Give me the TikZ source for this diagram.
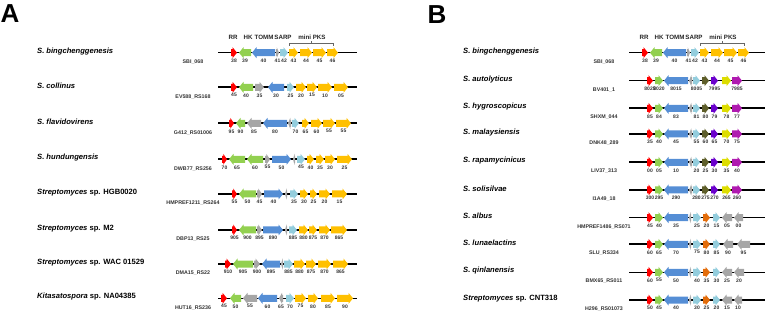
\documentclass[tikz,border=0pt]{standalone}
\usepackage{fontspec}
\setmainfont{Liberation Sans}
\usetikzlibrary{positioning}
\definecolor{gred}{HTML}{FF0000}
\definecolor{ggreen}{HTML}{92D050}
\definecolor{gblue}{HTML}{558ED5}
\definecolor{ggray}{HTML}{A6A6A6}
\definecolor{gsky}{HTML}{93CDDD}
\definecolor{gyellow}{HTML}{FFC000}
\definecolor{golive}{HTML}{5E5E2A}
\definecolor{gviolet}{HTML}{6A00CC}
\definecolor{glime}{HTML}{DDDD00}
\definecolor{gmagenta}{HTML}{B01AB0}
\definecolor{gorange}{HTML}{E36C0A}
\tikzset{
  panel/.style={font=\fontsize{26}{28}\selectfont\bfseries, inner sep=0pt},
  sp/.style={anchor=west, inner sep=0pt, font=\fontsize{7.6}{8}\selectfont\bfseries},
  tag/.style={inner sep=0pt, text=black!80, font=\fontsize{5.3}{6}\selectfont\bfseries},
  gnum/.style={inner sep=0pt, text=black!80, font=\fontsize{5}{6}\selectfont\bfseries},
  head/.style={inner sep=0pt, text=black!85, font=\fontsize{6.2}{7}\selectfont\bfseries},
  locus/.style={line width=1.6pt, black},
  brk/.style={draw=black!60, line width=0.5pt},
}
\newcounter{gn}
% gene pointing right: x1, x2, y, colour, number
\newcommand{\gR}[5]{%
  \pgfmathsetmacro{\hl}{min(4.5,0.75*(#2-#1))}
  \fill[#4] (#1,#3-3.5) -- (#2-\hl,#3-3.5) -- (#2-\hl,#3-5.5) -- (#2,#3)
    -- (#2-\hl,#3+5.5) -- (#2-\hl,#3+3.5) -- (#1,#3+3.5) -- cycle;
  \ifx\relax#5\relax\else
    \stepcounter{gn}\node[gnum] (n\arabic{gn}) at ({(#1+#2)/2},#3+8) {#5};
  \fi}
% gene pointing left: x1, x2, y, colour, number
\newcommand{\gL}[5]{%
  \pgfmathsetmacro{\hl}{min(4.5,0.75*(#2-#1))}
  \fill[#4] (#2,#3-3.5) -- (#1+\hl,#3-3.5) -- (#1+\hl,#3-5.5) -- (#1,#3)
    -- (#1+\hl,#3+5.5) -- (#1+\hl,#3+3.5) -- (#2,#3+3.5) -- cycle;
  \ifx\relax#5\relax\else
    \stepcounter{gn}\node[gnum] (n\arabic{gn}) at ({(#1+#2)/2},#3+8) {#5};
  \fi}

\begin{document}
\begin{tikzpicture}[x=1pt, y=-1pt]
  \useasboundingbox (0,0) rectangle (765,312);
  \node[panel] (pA) at (10,14) {A};
  \node[panel] (pB) at (437,15) {B};

  % panel A, headers
  \node[head] (rrA) at (233,37.3) {RR};
  \node[head] (hkA) at (248,37.3) {HK};
  \node[head] (tommA) at (264,37.3) {TOMM};
  \node[head] (sarpA) at (283,37.3) {SARP};
  \node[head] (pksA) at (312,37.3) {mini PKS};
  \draw[brk] (289,46) -- (289,43.5) -- (333,43.5) -- (333,46) (311,43.5) -- (311,41.5);

  % panel A, row 1
  \node[sp] (sA1) at (37,51.2) {\textit{S. bingchenggenesis}};
  \node[tag] (tA1) at (193,62) {SBI\_068};
  \draw[locus] (218,52.7) -- (357,52.7);
  \gR{231}{237}{52.7}{gred}{38}
  \gL{239}{251}{52.7}{ggreen}{39}
  \gL{252}{275}{52.7}{gblue}{40}
  \gR{276}{279}{52.7}{ggray}{41}
  \gR{280}{288}{52.7}{gsky}{42}
  \gR{289}{298}{52.7}{gyellow}{43}
  \gR{300}{312}{52.7}{gyellow}{44}
  \gR{313}{326}{52.7}{gyellow}{45}
  \gR{327}{338}{52.7}{gyellow}{46}

  % panel A, row 2
  \node[sp] (sA2) at (37,85.8) {\textit{S. collinus}};
  \node[tag] (tA2) at (193,96.6) {EV588\_RS168};
  \draw[locus] (218,87.3) -- (357,87.3);
  \gR{231}{237}{87.3}{gred}{45}
  \gL{239}{253}{87.3}{ggreen}{40}
  \gR{255}{264}{87.3}{ggray}{35}
  \gL{268}{284}{87.3}{gblue}{30}
  \gR{287}{294}{87.3}{gsky}{25}
  \gR{296}{306}{87.3}{gyellow}{20}
  \gR{307}{317}{87.3}{gyellow}{15}
  \gR{318}{332}{87.3}{gyellow}{10}
  \gR{334}{348}{87.3}{gyellow}{05}

  % panel A, row 3
  \node[sp] (sA3) at (37,121.8) {\textit{S. flavidovirens}};
  \node[tag] (tA3) at (193,132.6) {G412\_RS01006};
  \draw[locus] (218,123.3) -- (357,123.3);
  \gR{229}{234}{123.3}{gred}{95}
  \gL{236}{245}{123.3}{ggreen}{90}
  \gL{247}{261}{123.3}{ggray}{85}
  \gL{263}{287}{123.3}{gblue}{80}
  \gL{288}{291}{123.3}{ggray}{}
  \gR{292}{299}{123.3}{gsky}{70}
  \gR{302}{309}{123.3}{gyellow}{65}
  \gR{311}{322}{123.3}{gyellow}{60}
  \gR{323}{335}{123.3}{gyellow}{55}
  \gR{336}{351}{123.3}{gyellow}{55}

  % panel A, row 4
  \node[sp] (sA4) at (37,157.8) {\textit{S. hundungensis}};
  \node[tag] (tA4) at (193,168.6) {DWB77\_RS256};
  \draw[locus] (218,159.3) -- (357,159.3);
  \gR{222}{227}{159.3}{gred}{70}
  \gL{229}{245}{159.3}{ggreen}{65}
  \gL{247}{263}{159.3}{ggreen}{60}
  \gR{265}{270}{159.3}{ggray}{55}
  \gR{272}{291}{159.3}{gblue}{50}
  \gL{293}{295}{159.3}{ggray}{}
  \gR{297}{305}{159.3}{gsky}{45}
  \gR{307}{314}{159.3}{gyellow}{40}
  \gR{316}{324}{159.3}{gyellow}{35}
  \gR{325}{335}{159.3}{gyellow}{30}
  \gR{337}{352}{159.3}{gyellow}{25}

  % panel A, row 5
  \node[sp] (sA5) at (37,192.5) {\textit{Streptomyces} sp. HGB0020};
  \node[tag] (tA5) at (193,203.3) {HMPREF1211\_RS264};
  \draw[locus] (218,194) -- (357,194);
  \gR{232}{237}{194}{gred}{55}
  \gL{239}{256}{194}{ggreen}{50}
  \gR{257}{262}{194}{ggray}{45}
  \gR{264}{283}{194}{gblue}{40}
  \gL{285}{287}{194}{ggray}{}
  \gR{290}{298}{194}{gsky}{35}
  \gR{300}{308}{194}{gyellow}{30}
  \gR{310}{317}{194}{gyellow}{25}
  \gR{319}{330}{194}{gyellow}{20}
  \gR{332}{347}{194}{gyellow}{15}

  % panel A, row 6
  \node[sp] (sA6) at (37,228.5) {\textit{Streptomyces} sp. M2};
  \node[tag] (tA6) at (193,239.3) {DBP13\_RS25};
  \draw[locus] (218,230) -- (357,230);
  \gR{232}{237}{230}{gred}{905}
  \gL{239}{256}{230}{ggreen}{900}
  \gR{257}{262}{230}{ggray}{895}
  \gR{263}{283}{230}{gblue}{890}
  \gL{285}{287}{230}{ggray}{}
  \gR{289}{297}{230}{gsky}{885}
  \gR{299}{308}{230}{gyellow}{880}
  \gR{309}{317}{230}{gyellow}{875}
  \gR{319}{330}{230}{gyellow}{870}
  \gR{331}{347}{230}{gyellow}{865}

  % panel A, row 7
  \node[sp] (sA7) at (37,262.5) {\textit{Streptomyces} sp. WAC 01529};
  \node[tag] (tA7) at (193,273.3) {DMA15\_RS22};
  \draw[locus] (218,264) -- (357,264);
  \gR{225}{231}{264}{gred}{910}
  \gL{233}{253}{264}{ggreen}{905}
  \gR{254}{260}{264}{ggray}{900}
  \gL{262}{280}{264}{gblue}{895}
  \gL{281}{283}{264}{ggray}{}
  \gR{284}{293}{264}{gsky}{885}
  \gR{294}{305}{264}{gyellow}{880}
  \gR{306}{316}{264}{gyellow}{875}
  \gR{318}{331}{264}{gyellow}{870}
  \gR{333}{348}{264}{gyellow}{865}

  % panel A, row 8
  \node[sp] (sA8) at (37,296.8) {\textit{Kitasatospora} sp. NA04385};
  \node[tag] (tA8) at (193,307.6) {HUT16\_RS236};
  \draw[locus] (218,298.3) -- (357,298.3);
  \gR{221}{227}{298.3}{gred}{45}
  \gL{230}{241}{298.3}{ggreen}{50}
  \gL{243}{257}{298.3}{ggray}{55}
  \gL{258}{277}{298.3}{gblue}{60}
  \gL{279}{283}{298.3}{ggray}{65}
  \gR{286}{294}{298.3}{gsky}{70}
  \gR{295}{306}{298.3}{gyellow}{75}
  \gR{308}{318}{298.3}{gyellow}{80}
  \gR{321}{335}{298.3}{gyellow}{85}
  \gR{337}{353}{298.3}{gyellow}{90}

  % panel B, headers
  \node[head] (rrB) at (644,37.3) {RR};
  \node[head] (hkB) at (659,37.3) {HK};
  \node[head] (tommB) at (675,37.3) {TOMM};
  \node[head] (sarpB) at (694,37.3) {SARP};
  \node[head] (pksB) at (723,37.3) {mini PKS};
  \draw[brk] (700,46) -- (700,43.5) -- (744,43.5) -- (744,46) (722,43.5) -- (722,41.5);

  % panel B, row 1
  \node[sp] (sB1) at (463,51.2) {\textit{S. bingchenggenesis}};
  \node[tag] (tB1) at (604,61.5) {SBI\_068};
  \draw[locus] (629,52.7) -- (765,52.7);
  \gR{642}{648}{52.7}{gred}{38}
  \gL{650}{662}{52.7}{ggreen}{39}
  \gL{663}{686}{52.7}{gblue}{40}
  \gR{687}{690}{52.7}{ggray}{41}
  \gR{691}{699}{52.7}{gsky}{42}
  \gR{700}{709}{52.7}{gyellow}{43}
  \gR{711}{723}{52.7}{gyellow}{44}
  \gR{724}{737}{52.7}{gyellow}{45}
  \gR{738}{749}{52.7}{gyellow}{46}

  % panel B, row 2
  \node[sp] (sB2) at (463,79.2) {\textit{S. autolyticus}};
  \node[tag] (tB2) at (604,89.5) {BV401\_1};
  \draw[locus] (629,80.7) -- (765,80.7);
  \gR{647}{653}{80.7}{gred}{8025}
  \gR{655}{663}{80.7}{ggreen}{8020}
  \gL{664}{688}{80.7}{gblue}{8015}
  \gL{689}{692}{80.7}{ggray}{}
  \gR{693}{700}{80.7}{gsky}{8005}
  \gR{702}{709}{80.7}{golive}{}
  \gR{711}{718}{80.7}{gviolet}{7995}
  \gR{722}{731}{80.7}{glime}{}
  \gR{732}{742}{80.7}{gmagenta}{7985}

  % panel B, row 3
  \node[sp] (sB3) at (463,106.8) {\textit{S. hygroscopicus}};
  \node[tag] (tB3) at (604,117.1) {SHXM\_044};
  \draw[locus] (629,108.3) -- (765,108.3);
  \gR{647}{653}{108.3}{gred}{85}
  \gR{655}{663}{108.3}{ggreen}{84}
  \gL{664}{688}{108.3}{gblue}{83}
  \gL{689}{692}{108.3}{ggray}{}
  \gR{693}{700}{108.3}{gsky}{81}
  \gR{702}{709}{108.3}{golive}{80}
  \gR{711}{718}{108.3}{gviolet}{79}
  \gR{722}{731}{108.3}{glime}{78}
  \gR{732}{742}{108.3}{gmagenta}{77}

  % panel B, row 4
  \node[sp] (sB4) at (463,132.5) {\textit{S. malaysiensis}};
  \node[tag] (tB4) at (604,142.8) {DNK48\_289};
  \draw[locus] (629,134) -- (765,134);
  \gR{647}{653}{134}{gred}{35}
  \gR{655}{663}{134}{ggreen}{40}
  \gL{664}{688}{134}{gblue}{45}
  \gL{689}{692}{134}{ggray}{}
  \gR{693}{700}{134}{gsky}{55}
  \gR{702}{709}{134}{golive}{60}
  \gR{711}{718}{134}{gviolet}{65}
  \gR{722}{731}{134}{glime}{70}
  \gR{732}{742}{134}{gmagenta}{75}

  % panel B, row 5
  \node[sp] (sB5) at (463,160.8) {\textit{S. rapamycinicus}};
  \node[tag] (tB5) at (604,171.1) {LIV37\_313};
  \draw[locus] (629,162.3) -- (765,162.3);
  \gR{647}{653}{162.3}{gred}{00}
  \gR{655}{663}{162.3}{ggreen}{05}
  \gL{664}{688}{162.3}{gblue}{10}
  \gL{689}{692}{162.3}{ggray}{}
  \gR{693}{700}{162.3}{gsky}{20}
  \gR{702}{709}{162.3}{golive}{25}
  \gR{711}{718}{162.3}{gviolet}{30}
  \gR{722}{731}{162.3}{glime}{35}
  \gR{732}{742}{162.3}{gmagenta}{40}

  % panel B, row 6
  \node[sp] (sB6) at (463,188.5) {\textit{S. solisilvae}};
  \node[tag] (tB6) at (604,198.8) {I1A49\_18};
  \draw[locus] (629,190) -- (765,190);
  \gR{647}{653}{190}{gred}{300}
  \gR{655}{663}{190}{ggreen}{295}
  \gL{664}{688}{190}{gblue}{290}
  \gL{689}{692}{190}{ggray}{}
  \gR{693}{700}{190}{gsky}{280}
  \gR{702}{709}{190}{golive}{275}
  \gR{711}{718}{190}{gviolet}{270}
  \gR{722}{731}{190}{glime}{265}
  \gR{732}{742}{190}{gmagenta}{260}

  % panel B, row 7
  \node[sp] (sB7) at (463,216.2) {\textit{S. albus}};
  \node[tag] (tB7) at (604,226.5) {HMPREF1486\_RS071};
  \draw[locus] (629,217.7) -- (765,217.7);
  \gR{647}{653}{217.7}{gred}{45}
  \gR{655}{663}{217.7}{ggreen}{40}
  \gL{664}{688}{217.7}{gblue}{35}
  \gL{689}{691}{217.7}{ggray}{}
  \gR{693}{701}{217.7}{gsky}{25}
  \gR{703}{710}{217.7}{gorange}{20}
  \gR{713}{720}{217.7}{gsky}{15}
  \gL{722}{732}{217.7}{ggray}{05}
  \gL{734}{743}{217.7}{ggray}{00}

  % panel B, row 8
  \node[sp] (sB8) at (463,242.8) {\textit{S. lunaelactins}};
  \node[tag] (tB8) at (604,253.1) {SLU\_RS334};
  \draw[locus] (629,244.3) -- (765,244.3);
  \gR{647}{653}{244.3}{gred}{60}
  \gR{655}{663}{244.3}{ggreen}{65}
  \gL{664}{688}{244.3}{gblue}{70}
  \gL{689}{691}{244.3}{ggray}{}
  \gR{693}{701}{244.3}{gsky}{75}
  \gR{703}{710}{244.3}{gorange}{80}
  \gR{713}{720}{244.3}{gsky}{85}
  \gL{723}{733}{244.3}{ggray}{90}
  \gL{737}{750}{244.3}{ggray}{95}

  % panel B, row 9
  \node[sp] (sB9) at (463,270.8) {\textit{S. qinlanensis}};
  \node[tag] (tB9) at (604,281.1) {BMX65\_RS011};
  \draw[locus] (629,272.3) -- (765,272.3);
  \gR{647}{653}{272.3}{gred}{60}
  \gR{655}{663}{272.3}{ggreen}{55}
  \gL{664}{688}{272.3}{gblue}{50}
  \gL{689}{691}{272.3}{ggray}{}
  \gR{693}{701}{272.3}{gsky}{40}
  \gR{703}{710}{272.3}{gorange}{35}
  \gR{713}{720}{272.3}{gsky}{30}
  \gL{722}{732}{272.3}{ggray}{25}
  \gL{734}{744}{272.3}{ggray}{20}

  % panel B, row 10
  \node[sp] (sB10) at (463,298.5) {\textit{Streptomyces} sp. CNT318};
  \node[tag] (tB10) at (604,308.8) {H296\_RS01073};
  \draw[locus] (629,300) -- (765,300);
  \gR{647}{653}{300}{gred}{50}
  \gR{655}{663}{300}{ggreen}{45}
  \gL{664}{688}{300}{gblue}{40}
  \gL{689}{691}{300}{ggray}{}
  \gR{693}{701}{300}{gsky}{30}
  \gR{703}{710}{300}{gorange}{25}
  \gR{713}{720}{300}{gsky}{20}
  \gL{722}{732}{300}{ggray}{15}
  \gL{734}{742}{300}{ggray}{10}
\end{tikzpicture}
\end{document}
